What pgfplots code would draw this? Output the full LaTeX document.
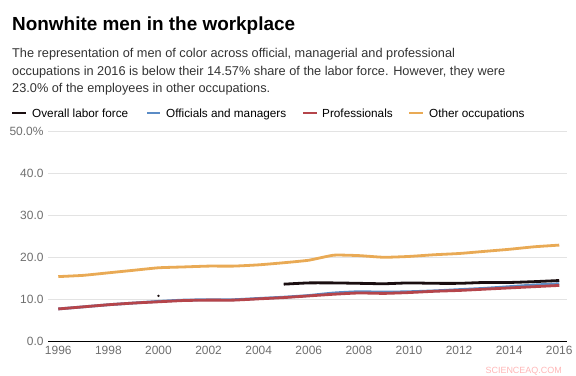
\documentclass[border=0pt]{standalone}
\usepackage{pgfplots}
\pgfplotsset{compat=1.18}
\usepackage{fontspec}
\setmainfont{Liberation Sans}
\definecolor{cblack}{HTML}{1A0E10}
\definecolor{cblue}{HTML}{5B8CC6}
\definecolor{cred}{HTML}{B5454B}
\definecolor{corange}{HTML}{E9AA55}
\definecolor{ctick}{HTML}{6E6E6E}
\definecolor{cgrid}{HTML}{E3E3E3}
\begin{document}
\begin{tikzpicture}[x=1bp,y=1bp]
\useasboundingbox (0,0) rectangle (576,375);
\node[anchor=base west, inner sep=0, font=\fontsize{19}{23}\selectfont\bfseries] at (12,345) {Nonwhite men in the workplace};
\node[anchor=base west, inner sep=0, font=\fontsize{12.8}{16}\selectfont, text=black!80] at (12,317.5) {The representation of men of color across official, managerial and professional};
\node[anchor=base west, inner sep=0, font=\fontsize{12.8}{16}\selectfont, text=black!80] at (12,300) {occupations in 2016 is below their 14.57\% share of the labor force. However, they were};
\node[anchor=base west, inner sep=0, font=\fontsize{12.8}{16}\selectfont, text=black!80] at (12,282.5) {23.0\% of the employees in other occupations.};
% legend
\begin{scope}[font=\fontsize{11.8}{14}\selectfont]
\draw[cblack, line width=2.5bp] (12,262) -- (26,262);
\node[anchor=base west, inner sep=0] at (32,258) {Overall labor force};
\draw[cblue, line width=2.5bp] (147,262) -- (160,262);
\node[anchor=base west, inner sep=0] at (166,258) {Officials and managers};
\draw[cred, line width=2.5bp] (303,262) -- (317,262);
\node[anchor=base west, inner sep=0] at (322,258) {Professionals};
\draw[corange, line width=2.5bp] (409,262) -- (423,262);
\node[anchor=base west, inner sep=0] at (429,258) {Other occupations};
\end{scope}
\node[anchor=base east, inner sep=0, font=\fontsize{9}{11}\selectfont, text=pink!70!red!60] at (562,2) {SCIENCEAQ.COM};
\begin{axis}[
  at={(48bp,33.3bp)}, anchor=south west,
  scale only axis, width=519bp, height=210bp,
  xmin=1995.59, xmax=2016.31, ymin=0, ymax=50,
  axis x line*=bottom, axis y line*=left,
  x axis line style={black, line width=1bp},
  y axis line style={draw=none},
  xtick={1996,1998,...,2016},
  xticklabel style={/pgf/number format/1000 sep={}},
  ytick={0,10,20,30,40,50},
  yticklabels={0.0,10.0,20.0,30.0,40.0,50.0\%},
  ymajorgrids, grid style={cgrid, line width=0.8bp},
  major tick length=0pt,
  tick label style={font=\fontsize{12}{14}\selectfont, text=ctick},
  /pgf/number format/assume math mode=true,
  xticklabel style={yshift=-1bp},
  yticklabel style={xshift=-1bp},
  clip=false,
]
\addplot[corange, line width=2.8bp, smooth, tension=0.3] coordinates {
(1996,15.5)(1997,15.8)(1998,16.4)(1999,17.0)(2000,17.6)(2001,17.8)(2002,18.0)(2003,18.0)(2004,18.3)(2005,18.8)(2006,19.4)(2007,20.6)(2008,20.5)(2009,20.1)(2010,20.3)(2011,20.7)(2012,21.0)(2013,21.5)(2014,22.0)(2015,22.6)(2016,23.0)};
\addplot[cblue, line width=2.8bp, smooth, tension=0.3] coordinates {
(1996,7.8)(1997,8.3)(1998,8.8)(1999,9.2)(2000,9.6)(2001,9.9)(2002,10.0)(2003,10.0)(2004,10.3)(2005,10.6)(2006,11.0)(2007,11.6)(2008,11.9)(2009,11.8)(2010,11.9)(2011,12.1)(2012,12.4)(2013,12.7)(2014,13.1)(2015,13.5)(2016,13.8)};
\addplot[cred, line width=2.8bp, smooth, tension=0.3] coordinates {
(1996,7.8)(1997,8.3)(1998,8.8)(1999,9.2)(2000,9.5)(2001,9.8)(2002,9.9)(2003,9.9)(2004,10.2)(2005,10.5)(2006,10.9)(2007,11.3)(2008,11.6)(2009,11.5)(2010,11.7)(2011,12.0)(2012,12.2)(2013,12.5)(2014,12.8)(2015,13.1)(2016,13.4)};
\addplot[cblack, line width=2.8bp, smooth, tension=0.3] coordinates {
(2005,13.7)(2006,14.0)(2007,14.0)(2008,13.9)(2009,13.8)(2010,14.0)(2011,13.9)(2012,13.9)(2013,14.1)(2014,14.1)(2015,14.3)(2016,14.57)};
\addplot[cblack, only marks, mark=*, mark size=1bp] coordinates {(2000,10.9)};
\end{axis}
\end{tikzpicture}
\end{document}
